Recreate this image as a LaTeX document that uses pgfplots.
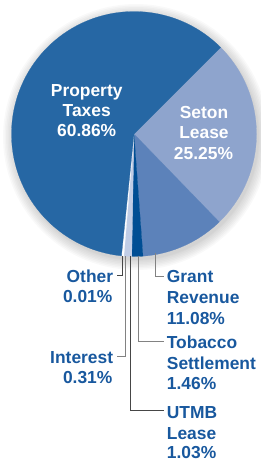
\documentclass[border=0pt]{standalone}
\usepackage{pgfplots}
\pgfplotsset{compat=1.18}
\usepackage{fontspec}
\setmainfont{Liberation Sans}
\definecolor{cProp}{RGB}{38,103,164}
\definecolor{cSeton}{RGB}{142,164,205}
\definecolor{cGrant}{RGB}{92,130,186}
\definecolor{cTob}{RGB}{0,78,148}
\definecolor{cUTMB}{RGB}{192,205,230}
\definecolor{cInt}{RGB}{250,252,255}
\definecolor{cOther}{RGB}{200,210,230}
\definecolor{txt}{RGB}{24,88,158}
\definecolor{ldark}{RGB}{70,70,70}
\definecolor{lgray}{RGB}{130,130,130}
\tikzset{
  lbl/.style={font=\bfseries\fontsize{17.4}{20.7}\selectfont, inner sep=0pt, text=txt},
  wlbl/.style={font=\bfseries\fontsize{17.4}{20.7}\selectfont, inner sep=0pt, text=white, anchor=base},
}
% slice: cumulative start %, cumulative end %, colour
\newcommand{\slice}[3]{%
  \pgfmathsetmacro\aA{45-3.6*#2}%
  \pgfmathsetmacro\aB{45-3.6*#1}%
  \edef\doslice{\noexpand\addplot[fill=#3, draw=#3, line width=0.2pt, domain=\aA:\aB, samples=120]
    ({134+122.5*cos(x)},{134-122.5*sin(x)}) -- (axis cs:134,134) -- cycle;}%
  \doslice
}
\newcommand{\shadowring}[1]{%
  \addplot[fill=black, fill opacity=0.022, draw=none, domain=0:360, samples=120]
    ({136+#1*cos(x)},{137-#1*sin(x)}) -- cycle;
}
\begin{document}
\begin{tikzpicture}
\begin{axis}[
  width=261pt, height=460pt, scale only axis,
  xmin=0, xmax=261, ymin=0, ymax=460, y dir=reverse,
  hide axis, clip=false,
]
\coordinate (BL) at (axis cs:0,460);
\coordinate (TR) at (axis cs:261,0);
% soft shadow
\shadowring{133}
\shadowring{131.5}
\shadowring{130}
\shadowring{128.5}
\shadowring{127}
\shadowring{125.5}
\shadowring{124}
\shadowring{123}
% slices (values in percent, clockwise from 45 degrees)
% Seton Lease 25.25, Grant Revenue 11.08, Tobacco 1.46, UTMB 1.03, Interest 0.31, Other 0.01, Property Taxes 60.86
\slice{0}{25.25}{cSeton}
\slice{25.25}{36.33}{cGrant}
\slice{36.33}{37.79}{cTob}
\slice{37.79}{38.82}{cUTMB}
\slice{38.82}{39.13}{cInt}
\slice{39.13}{39.14}{cOther}
\slice{39.14}{100}{cProp}
% leader lines
\addplot[draw=lgray, line width=0.9pt] coordinates {(155.7,253) (155.7,276) (163.5,276)};
\addplot[draw=lgray, line width=0.9pt] coordinates {(138.7,255.5) (138.7,341.5) (164,341.5)};
\addplot[draw=ldark, line width=0.9pt] coordinates {(130.2,256) (130.2,410.5) (164,410.5)};
\addplot[draw=lgray, line width=0.9pt] coordinates {(125,256) (125,356.5) (117,356.5)};
\addplot[draw=ldark, line width=0.9pt] coordinates {(122.3,256) (122.3,275.5) (117,275.5)};
% inner labels
\node[wlbl] at (axis cs:86.7,96.5) {Property};
\node[wlbl] at (axis cs:86.7,116.5) {Taxes};
\node[wlbl] at (axis cs:86.7,136.5) {60.86\%};
\node[wlbl] at (axis cs:204,118.5) {Seton};
\node[wlbl] at (axis cs:204,138.8) {Lease};
\node[wlbl] at (axis cs:203.5,159) {25.25\%};
% outer labels right
\node[lbl, anchor=base west] at (axis cs:166.7,282.5) {Grant};
\node[lbl, anchor=base west] at (axis cs:166.7,303.2) {Revenue};
\node[lbl, anchor=base west] at (axis cs:166.7,324) {11.08\%};
\node[lbl, anchor=base west] at (axis cs:166.7,348.3) {Tobacco};
\node[lbl, anchor=base west] at (axis cs:166.7,369) {Settlement};
\node[lbl, anchor=base west] at (axis cs:166.7,389.7) {1.46\%};
\node[lbl, anchor=base west] at (axis cs:166.7,418.3) {UTMB};
\node[lbl, anchor=base west] at (axis cs:166.7,439) {Lease};
\node[lbl, anchor=base west] at (axis cs:166.7,458.3) {1.03\%};
% outer labels left
\node[lbl, anchor=base east] at (axis cs:113.3,282.3) {Other};
\node[lbl, anchor=base east] at (axis cs:112.6,302.7) {0.01\%};
\node[lbl, anchor=base east] at (axis cs:113.3,363.3) {Interest};
\node[lbl, anchor=base east] at (axis cs:112.6,383.7) {0.31\%};
\end{axis}
\pgfresetboundingbox
\useasboundingbox (BL) rectangle (TR);
\end{tikzpicture}
\end{document}
